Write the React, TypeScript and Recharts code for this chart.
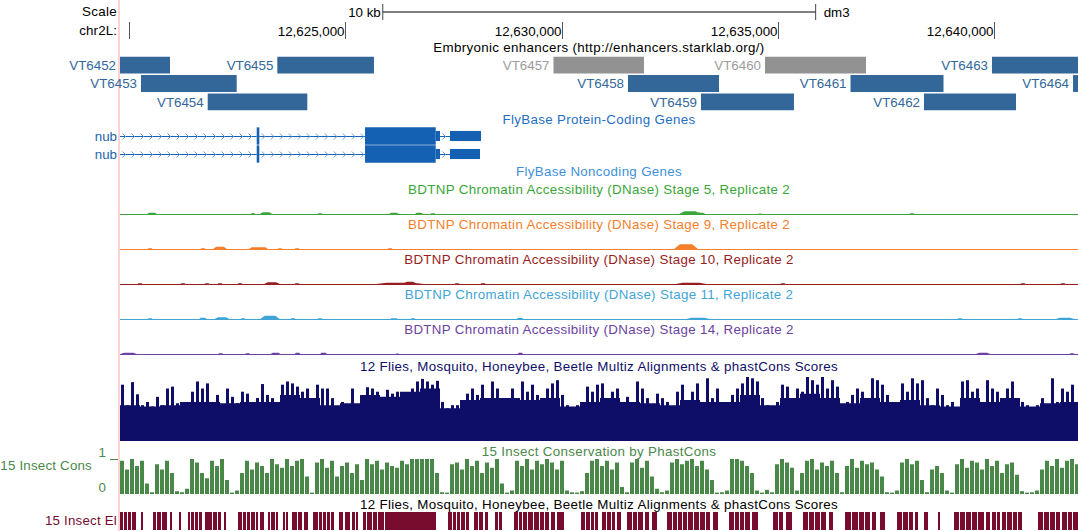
import React from 'react';
import { ComposedChart, XAxis, YAxis, Area, Bar, ReferenceArea, ReferenceLine } from 'recharts';

const W = 1078;
const H = 531;
const LEFT = 120;
const XMIN = 12619800;
const XMAX = 12641930;
const FONT = '"Liberation Sans", Arial, Helvetica, sans-serif';
const FS = 13.33;

// ---------------- data ----------------
const rulerTicks = [12620000, 12625000, 12630000, 12635000, 12640000];
const guideStepBp = 250;
const scaleBarStart = 12625870;
const scaleBarEnd = 12635870;

const enhancerNames = ['VT6452', 'VT6453', 'VT6454', 'VT6455', 'VT6457', 'VT6458', 'VT6459', 'VT6460', 'VT6461', 'VT6462', 'VT6463', 'VT6464'];
const enhancerStarts = [12618900, 12620285, 12621826, 12623434, 12629814, 12631535, 12633221, 12634700, 12636675, 12638372, 12639943, 12641814];
const enhancerEnds = [12620955, 12622496, 12624127, 12625667, 12631904, 12633637, 12635369, 12637033, 12638823, 12640498, 12642100, 12643900];
const enhancerRows = [0, 1, 2, 0, 0, 1, 2, 0, 1, 2, 0, 1];
const enhancerActive = [1, 1, 1, 1, 0, 1, 1, 0, 1, 1, 1, 1];

const nubIsoforms = ['nub', 'nub'];
const nubTxStart = 12605000;
const nubBlockStarts = [
  [12622958, 12625460, 12627093, 12627423],
  [12622958, 12625460, 12627093, 12627423],
];
const nubBlockEnds = [
  [12623018, 12627093, 12627192, 12628139],
  [12623018, 12627093, 12627192, 12628116],
];
const nubBlockCoding = [1, 1, 0, 0];

// DNase peaks: [center, width bp, signal]
const dnaseStage5 = [[12620539, 230, 1.5], [12622872, 120, 1], [12623173, 280, 2], [12624420, 120, 1], [12626129, 230, 1.5], [12626707, 190, 1.5], [12627030, 120, 1], [12632967, 500, 3], [12633198, 250, 1.5], [12634584, 80, 0.7], [12638095, 120, 1]];
const dnaseStage9 = [[12620493, 120, 1], [12621717, 120, 1], [12622110, 330, 2.5], [12622919, 280, 2], [12623080, 280, 2], [12623496, 120, 1], [12623889, 120, 1], [12626037, 120, 1], [12632875, 550, 5]];
const dnaseStage10 = [[12620262, 120, 1], [12621255, 120, 1], [12621810, 120, 1], [12622110, 120, 1], [12622572, 120, 1], [12623311, 370, 2], [12623889, 120, 1], [12626268, 1200, 1.5], [12626499, 250, 2.5], [12627585, 120, 1], [12628185, 120, 1], [12632990, 760, 1.5], [12635115, 120, 1], [12640659, 120, 1], [12641583, 120, 1]];
const dnaseStage11 = [[12620493, 120, 1], [12621717, 180, 1.5], [12622156, 350, 2], [12622641, 120, 1], [12623265, 460, 3.5], [12623796, 120, 1], [12624420, 120, 1], [12626129, 200, 1], [12626568, 120, 1], [12629040, 150, 1.5], [12633150, 580, 1.5], [12639204, 120, 1], [12640590, 120, 1], [12641630, 460, 1.5]];
const dnaseStage14 = [[12619985, 400, 1.5], [12622110, 120, 1], [12622734, 120, 1], [12623381, 230, 1.5], [12623889, 120, 1.5], [12624489, 160, 1.5], [12626199, 80, 0.7], [12629040, 120, 1.5], [12639735, 350, 1.5], [12641791, 120, 1]];

// 12 flies phastCons: per-bin maximum (5 px bins) and mean (20 px bins)
const multizBinBp = 115.5;
const multizMax = [
  .88, .56, .92, .73, .56, .61, .54, .69, .56, .82,
  .85, .59, .56, .61, .77, .93, .82, .90, .61, .72,
  .56, .82, .69, .59, .77, .74, .56, .67, .89, .72,
  .67, .51, .88, .93, .90, .85, .77, .82, .61, .88,
  .82, .82, .67, .54, .61, .56, .82, .56, .67, .84,
  .82, .77, .61, .80, .74, .77, .67, .56, .82, .93,
  .97, .93, .88, .94, .61, .51, .56, .56, .61, .74,
  .82, .72, .88, .56, .93, .82, .67, .67, .82, .61,
  .93, .77, .88, .72, .61, .82, .90, .95, .72, .56,
  .51, .56, .51, .85, .77,
  .88, .90, .67, .77, .82, .61, .69, .56, .93, .82,
  .67, .56, .74, .67, .61, .51, .77, .88, .61, .77,
  .90, .61, .98, .67, .82, .56, .51, .72, .82, .90,
  1.0, .98, .93, .67, .56, .51, .61, .88, .85, .67,
  .82, .77, 1.0, .95, .88, 1.0, .82, .95, .85, .56,
  .61, .72, .82, .77, .67, .98, .95, .88, .72, .61,
  .54, .90, .77, .98, .90, .95, .67, .56, .82, .72,
  .56, .61, .51, .93, .95, .77, .82, .61, .95, .82,
  .77, .56, .82, .93, .67, .61, .56, .51, .56, .67,
  .51, .98, .61, .82, .77, .88, .61,
];
const multizMean = [
  .56, .54, .56, .61, .61, .59, .61, .61, .72, .67, .56, .59, .72, .69, .77, .82, .51, .64, .67, .67, .64, .67, .54, .61,
  .67, .61, .59, .56, .64, .61, .61, .72, .56, .67, .74, .67, .59, .67, .61, .64, .56, .54, .67, .61, .67, .54, .59, .61,
];

// 15 insect phastCons (5 px bins)
const consBinBp = 115.5;
const insectCons = [
  .95, .7, 1, .8, .95, .3, .05, .85, .7, .95,
  .6, .08, .05, .15, 1, .9, .6, .45, .95, .8,
  1, .4, .04, .1, .6, .95, .7, .9, .8, .6,
  1, .85, .75, 1, .8, .95, 1, .5, .04, .9,
  1, .75, .95, .5, .8, .9, .6, .85, .4, 1,
  .85, .95, .7, .9, .8, .75, .95, .85, 1, 1,
  1, 1, 1, .6, .05, .04, .85, .9, .7, 1,
  .8, .95, .6, .9, .75, 1, .3, .04, .1, .95,
  .8, 1, .7, .95, .85, 1, .9, .7, .95, .1,
  .05, .04, .08, .6, .95, 1, .8, .95, .7, .9,
  .2, .05, .9, 1, .75, .95, .5, .15, .05, .1,
  .9, 1, .85, .95, 1, .8, .95, .7, .4, .04,
  .05, .1, 1, 1, .95, .8, .6, .1, .04, .12,
  .05, .85, 1, .9, .75, .1, .6, .95, 1, .7,
  .9, .8, .95, .6, .05, .8, 1, .75, .95, .85,
  .9, .7, .5, .05, .04, .1, .9, 1, .85, .95,
  .4, .05, .7, .8, .6, .1, .04, .85, 1, .75,
  .95, .9, .7, 1, .8, .95, .6, .85, .9, .55,
  .08, .04, .05, .1, .7, .95, .8, 1, .75, .95,
  1, .85,
];

// 15 insect conserved elements: offsets (bp) from elOrigin
const elOrigin = 12619800;
const insectElements = [[0, 69], [92, 162], [185, 254], [277, 370], [485, 531], [762, 832], [855, 947], [970, 1086], [1155, 1201], [1363, 1409], [1571, 1617], [1640, 1709], [1733, 1802], [1825, 1894], [1964, 2125], [2148, 2241], [2264, 2333], [2402, 2449], [2726, 2818], [2841, 2911], [2934, 3003], [3026, 3119], [3142, 3188], [3234, 3326], [3419, 3465], [3488, 3581], [3604, 3650], [3765, 3812], [3835, 3881], [3973, 4089], [4112, 4204], [4250, 4343], [4458, 4574], [4597, 4666], [4689, 4759], [4782, 4851], [4874, 4943], [5059, 5151], [5198, 5313], [5359, 5429], [5452, 5498], [5613, 5683], [5706, 5821], [5844, 5937], [5960, 6098], [6122, 7300], [7577, 7669], [7692, 7762], [7785, 7854], [7877, 7970], [7993, 8062], [8177, 8270], [8293, 8385], [8432, 8501], [8663, 8732], [8755, 8824], [9101, 9194], [9217, 9286], [9309, 9402], [9425, 9540], [9563, 9679], [9702, 9794], [9818, 9910], [9956, 10049], [10095, 10256], [10649, 10742], [10765, 10857], [10880, 10949], [10973, 11042], [11134, 11227], [11250, 11342], [11365, 11435], [11481, 11573], [11712, 11827], [11850, 11943], [11966, 12081], [12128, 12220], [12289, 12405], [12636, 12751], [12774, 12867], [12890, 12982], [13005, 13098], [13121, 13236], [13259, 13375], [13398, 13514], [13537, 13629], [13698, 13814], [14068, 14183], [14207, 14299], [14322, 14414], [14438, 14553], [14599, 14738], [15084, 15200], [15223, 15315], [15385, 15523], [15777, 15893], [15916, 16031], [16055, 16170], [16193, 16309], [16378, 16470], [16748, 16886], [16909, 17048], [17071, 17186], [17210, 17325], [17371, 17464], [17556, 17672], [17949, 18064], [18087, 18203], [18226, 18318], [18365, 18434], [18572, 18665], [18896, 18942], [19265, 19381], [19404, 19520], [19543, 19658], [19681, 19797], [19820, 19958], [20005, 20097], [20143, 20236], [20259, 20328], [20374, 20467], [20490, 20605], [20628, 20721], [20744, 20836], [21206, 21321], [21344, 21460], [21483, 21599], [21622, 21714], [21760, 21876], [21899, 21991], [22014, 22130]];

// ---------------- styles ----------------
const GUIDE = '#d5d5fb';
const ENH_BLUE = '#33679a';
const ENH_GREY = '#929292';
const ENH_GREY_TXT = '#9c9c9c';
const GENE = '#1461b4';
const GENE_TXT = '#2563ad';
const CHEV = '#6aa2dc';
const NAVY = '#0e0e68';
const CONS_GREEN = '#4a884a';
const EL_RED = '#780c2f';
const TITLE_SPACING = 0.33;

const dnaseTracks = [dnaseStage5, dnaseStage9, dnaseStage10, dnaseStage11, dnaseStage14];
const dnaseTitles = [
  'BDTNP Chromatin Accessibility (DNase) Stage 5, Replicate 2',
  'BDTNP Chromatin Accessibility (DNase) Stage 9, Replicate 2',
  'BDTNP Chromatin Accessibility (DNase) Stage 10, Replicate 2',
  'BDTNP Chromatin Accessibility (DNase) Stage 11, Replicate 2',
  'BDTNP Chromatin Accessibility (DNase) Stage 14, Replicate 2',
];
const dnaseColors = ['#3aa63a', '#f57f2b', '#981d21', '#3fa5d6', '#6b42a2'];
const dnaseBase = [214, 249, 284, 319, 354];
const dnaseTitleY = [190, 225, 260, 295, 330];

const margin = { top: 0, right: 0, bottom: 0, left: LEFT };

// ---------------- helpers ----------------
function trap(p: number, c: number, w: number, h: number) {
  const d = Math.abs(p - c);
  if (d >= w / 2) return 0;
  if (d <= w / 4) return h;
  return (h * (w / 2 - d)) / (w / 4);
}
function peakSeries(peaks: number[][]) {
  const xs = new Set<number>([XMIN, XMAX]);
  peaks.forEach(([c, w]) => {
    xs.add(c - w / 2); xs.add(c - w / 4); xs.add(c + w / 4); xs.add(c + w / 2);
  });
  return [...xs].sort((a, b) => a - b).map((pos) => ({ pos, v: Math.max(0, ...peaks.map(([c, w, h]) => trap(pos, c, w, h))) }));
}

const guideTicks: number[] = [];
for (let t = Math.ceil(XMIN / guideStepBp) * guideStepBp; t <= XMAX; t += guideStepBp) guideTicks.push(t);

const multizData = multizMax.map((v, i) => ({ pos: XMIN + (i + 0.5) * multizBinBp, spike: v }));
const multizMeanData = multizMean.map((v, j) => ({ pos: XMIN + j * 4 * multizBinBp, mean: v }));
multizMeanData.push({ pos: XMAX, mean: multizMean[multizMean.length - 1] });

const consData = insectCons.map((v, i) => ({ pos: XMIN + (i + 0.5) * consBinBp, v }));

function Txt({ x, y, anchor = 'middle', color = '#000', spacing = TITLE_SPACING, children }: any) {
  const style: React.CSSProperties = { position: 'absolute', top: y - 8, height: 16, lineHeight: '16px', whiteSpace: 'nowrap', color, fontSize: FS, letterSpacing: spacing };
  if (anchor === 'end') style.right = W - x;
  else if (anchor === 'middle') { style.left = x; style.transform = 'translateX(-50%)'; }
  else style.left = x;
  return <div style={style}>{children}</div>;
}
function Layer({ top, children }: any) {
  return <div style={{ position: 'absolute', left: 0, top }}>{children}</div>;
}
const GuideLine = (p: any) => {
  const x = Math.round(p.x1) + 0.5;
  return <line x1={x} x2={x} y1={p.y1} y2={p.y2} stroke={GUIDE} strokeWidth={1} />;
};
const RulerTick = (p: any) => {
  const xx = Math.round(p.x) + 0.5;
  return (
    <g>
      <line x1={xx} x2={xx} y1={22} y2={39} stroke="#555" />
      {p.x > LEFT + 70 && (
        <text x={xx - 1} y={36} textAnchor="end" fontSize={FS} fill="#000">{Number(p.payload.value).toLocaleString('en-US')}</text>
      )}
    </g>
  );
};
const IntronShape = (p: any) => {
  const { x, y, width, height } = p;
  const cy = Math.round(y + height / 2) + 0.5;
  const chevrons: any[] = [];
  for (let cx = x + 4; cx < x + width - 2; cx += 9) {
    chevrons.push(<path key={cx} d={`M${cx - 1.5},${cy - 3}L${cx + 1.5},${cy}L${cx - 1.5},${cy + 3}`} fill="none" stroke={CHEV} strokeWidth={1} />);
  }
  return <g><line x1={x} x2={x + width} y1={cy} y2={cy} stroke={GENE} strokeWidth={1} />{chevrons}</g>;
};
const ConsTick = (p: any) => {
  const y = Math.round(p.y) + 0.5;
  return (
    <g>
      <text x={106} y={y - 3} textAnchor="end" fontSize={FS} fill={CONS_GREEN}>{p.payload.value}</text>
      <line x1={110} x2={118} y1={y} y2={y} stroke={CONS_GREEN} />
    </g>
  );
};

const xAxisHidden = <XAxis type="number" dataKey="pos" domain={[XMIN, XMAX]} hide allowDataOverflow />;

export default function App() {
  return (
    <div style={{ position: 'absolute', left: 0, top: 0, width: W, height: H, overflow: 'hidden', background: '#fff', fontFamily: FONT, fontSize: FS }}>
      <div style={{ position: 'absolute', left: 118, top: 0, width: 2, height: H, background: '#ffd3d3' }} />

      {/* guidelines */}
      <Layer top={0}>
        <ComposedChart width={W} height={H} margin={margin} data={guideTicks.map((pos) => ({ pos }))}>
          {xAxisHidden}
          <YAxis hide type="number" domain={[0, 1]} />
          {guideTicks.map((t) => (
            <ReferenceLine key={t} x={t} shape={GuideLine} ifOverflow="hidden" />
          ))}
        </ComposedChart>
      </Layer>

      {/* scale bar */}
      <Layer top={0}>
        <ComposedChart width={W} height={24} margin={margin} data={[{ pos: scaleBarStart }, { pos: scaleBarEnd }]}>
          {xAxisHidden}
          <YAxis hide type="number" domain={[-1.5, 1.5]} allowDataOverflow />
          <ReferenceLine segment={[{ x: scaleBarStart, y: 0 }, { x: scaleBarEnd, y: 0 }]} stroke="#000" strokeWidth={1}
            label={{ value: '10 kb', position: 'left', offset: 2, fill: '#000', fontSize: FS }} />
          <ReferenceLine segment={[{ x: scaleBarStart, y: -1 }, { x: scaleBarStart, y: 1 }]} stroke="#444" strokeWidth={1} />
          <ReferenceLine segment={[{ x: scaleBarEnd, y: -1 }, { x: scaleBarEnd, y: 1 }]} stroke="#444" strokeWidth={1}
            label={{ value: 'dm3', position: 'right', offset: 8, fill: '#000', fontSize: FS }} />
        </ComposedChart>
      </Layer>

      {/* ruler */}
      <Layer top={0}>
        <ComposedChart width={W} height={45} margin={margin} data={rulerTicks.map((pos) => ({ pos }))}>
          <XAxis type="number" dataKey="pos" domain={[XMIN, XMAX]} orientation="top" height={39} ticks={rulerTicks} interval={0}
            tick={RulerTick} tickLine={false} axisLine={false} allowDataOverflow />
          <YAxis hide type="number" domain={[0, 1]} />
        </ComposedChart>
      </Layer>
      <Txt x={117} y={12} anchor="end">Scale</Txt>
      <Txt x={117} y={31} anchor="end" spacing={0.1}>chr2L:</Txt>

      {/* enhancers */}
      <Txt x={599} y={48}>Embryonic enhancers (http://enhancers.starklab.org/)</Txt>
      <Layer top={56}>
        <ComposedChart width={W} height={55} margin={margin} data={enhancerStarts.map((pos) => ({ pos: Math.max(pos, XMIN) }))}>
          {xAxisHidden}
          <YAxis hide type="number" domain={[0, 3]} reversed allowDataOverflow />
          {enhancerNames.map((name, i) => (
            <ReferenceArea key={name}
              x1={Math.max(enhancerStarts[i], XMIN)} x2={Math.min(enhancerEnds[i], XMAX)}
              y1={enhancerRows[i] + 0.04} y2={enhancerRows[i] + 0.96}
              fill={enhancerActive[i] ? ENH_BLUE : ENH_GREY} fillOpacity={1} stroke="none"
              label={{ value: name, position: 'left', offset: 4, fill: enhancerActive[i] ? ENH_BLUE : ENH_GREY_TXT, fontSize: FS }} />
          ))}
        </ComposedChart>
      </Layer>

      {/* genes */}
      <Txt x={599} y={120} color="#1f6fc5">FlyBase Protein-Coding Genes</Txt>
      <Layer top={127}>
        <ComposedChart width={W} height={36} margin={margin} data={[{ pos: XMIN }, { pos: XMAX }]}>
          {xAxisHidden}
          <YAxis hide type="number" domain={[0, 2]} reversed allowDataOverflow />
          {nubIsoforms.map((name, r) => {
            const starts = nubBlockStarts[r];
            const ends = nubBlockEnds[r];
            const introns: number[][] = [[Math.max(nubTxStart, XMIN), starts[0]]];
            for (let k = 1; k < starts.length; k++) if (starts[k] > ends[k - 1]) introns.push([ends[k - 1], starts[k]]);
            return [
              ...introns.map((seg, k) => (
                <ReferenceArea key={`i${r}-${k}`} x1={seg[0]} x2={seg[1]} y1={r + 0.3} y2={r + 0.7} shape={IntronShape}
                  label={k === 0 ? { value: name, position: 'left', offset: 3, fill: GENE_TXT, fontSize: FS } : undefined} />
              )),
              ...starts.map((s, k) => (
                <ReferenceArea key={`b${r}-${k}`} x1={s} x2={ends[k]}
                  y1={r + (nubBlockCoding[k] ? 0.02 : 0.22)} y2={r + (nubBlockCoding[k] ? 0.98 : 0.78)}
                  fill={GENE} fillOpacity={1} stroke="none" />
              )),
            ];
          })}
        </ComposedChart>
      </Layer>
      <Txt x={599} y={172} color="#3f90db">FlyBase Noncoding Genes</Txt>

      {/* DNase tracks */}
      {dnaseTracks.map((peaks, i) => (
        <React.Fragment key={i}>
          <Txt x={599} y={dnaseTitleY[i]} color={dnaseColors[i]}>{dnaseTitles[i]}</Txt>
          <Layer top={dnaseBase[i] - 15}>
            <ComposedChart width={W} height={16} margin={margin} data={peakSeries(peaks)}>
              <XAxis type="number" dataKey="pos" domain={[XMIN, XMAX]} hide />
              <YAxis hide type="number" domain={[0, 16]} />
              <Area type="linear" dataKey="v" stroke={dnaseColors[i]} strokeWidth={1.5} fill={dnaseColors[i]} fillOpacity={1} isAnimationActive={false} dot={false} activeDot={false} />
              <ReferenceLine y={0} stroke={dnaseColors[i]} strokeWidth={2} />
            </ComposedChart>
          </Layer>
        </React.Fragment>
      ))}

      {/* 12 flies multiz / phastCons */}
      <Txt x={599} y={367} color={NAVY}>12 Flies, Mosquito, Honeybee, Beetle Multiz Alignments &amp; phastCons Scores</Txt>
      <Layer top={377}>
        <ComposedChart width={W} height={64} margin={margin} data={multizMeanData}>
          {xAxisHidden}
          <YAxis hide type="number" domain={[0, 1]} allowDataOverflow />
          <Area type="stepAfter" dataKey="mean" stroke="none" fill={NAVY} fillOpacity={1} isAnimationActive={false} dot={false} activeDot={false} />
        </ComposedChart>
      </Layer>
      <Layer top={377}>
        <ComposedChart width={W} height={64} margin={margin} data={multizData}>
          {xAxisHidden}
          <YAxis hide type="number" domain={[0, 1]} allowDataOverflow />
          <Bar dataKey="spike" barSize={3} fill={NAVY} isAnimationActive={false} />
        </ComposedChart>
      </Layer>

      {/* 15 insect cons */}
      <Txt x={599} y={452} color={CONS_GREEN}>15 Insect Conservation by PhastCons</Txt>
      <Txt x={92} y={466} anchor="end" color={CONS_GREEN} spacing={0.2}>15 Insect Cons</Txt>
      <Layer top={441}>
        <ComposedChart width={W} height={53} margin={{ top: 18, right: 0, bottom: 0, left: LEFT - 30 }} data={consData}>
          {xAxisHidden}
          <YAxis type="number" domain={[0, 1]} ticks={[0, 1]} interval={0} width={30} tick={ConsTick} axisLine={false} tickLine={false} allowDataOverflow />
          <Bar dataKey="v" barSize={4} fill={CONS_GREEN} isAnimationActive={false} />
        </ComposedChart>
      </Layer>

      {/* 15 insect elements */}
      <Txt x={599} y={505}>12 Flies, Mosquito, Honeybee, Beetle Multiz Alignments &amp; phastCons Scores</Txt>
      <Txt x={117} y={521} anchor="end" color={EL_RED} spacing={0.2}>15 Insect El</Txt>
      <Layer top={512}>
        <ComposedChart width={W} height={18} margin={margin} data={[{ pos: XMIN }, { pos: XMAX }]}>
          {xAxisHidden}
          <YAxis hide type="number" domain={[0, 1]} allowDataOverflow />
          {insectElements.map(([s, e], k) => (
            <ReferenceArea key={k} x1={elOrigin + s} x2={elOrigin + e} y1={0} y2={1} fill={EL_RED} fillOpacity={1} stroke="none" />
          ))}
        </ComposedChart>
      </Layer>
    </div>
  );
}
